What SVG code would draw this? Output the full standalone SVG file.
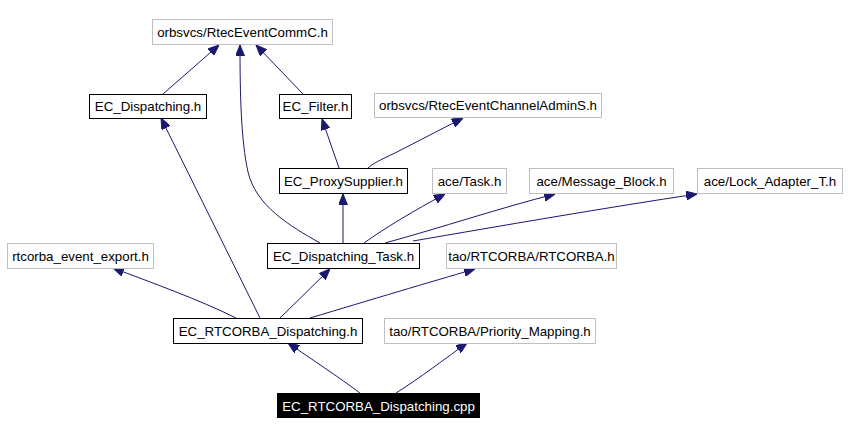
<svg xmlns="http://www.w3.org/2000/svg" width="848" height="435" viewBox="0 0 848 435">
<style>
.n rect{fill:#fff;stroke:#000;stroke-width:1}
.x rect{fill:#fff;stroke:#bfbfbf;stroke-width:1}
.c rect{fill:#000;stroke:#000}
text{font-family:"Liberation Sans",Arial,sans-serif;font-size:13.3px;text-anchor:middle;fill:#000}
.c text{fill:#fff}
.e path{fill:none;stroke:#191970;stroke-width:1;marker-end:url(#a)}
</style>
<defs>
<marker id="a" markerUnits="userSpaceOnUse" markerWidth="11" markerHeight="9" refX="11" refY="4.5" orient="auto" viewBox="0 0 11 9">
<path d="M0,0 L11,4.5 L0,9 z" fill="#191970" stroke="#191970"/>
</marker>
</defs>
<rect width="848" height="435" fill="#fff"/>
<g class="e" id="edges">
<path d="M163,94 L219,45"/>
<path d="M303,94 L256,45"/>
<path d="M320,243 C290,226 256,206 248,172 C241,140 240,95 240,45"/>
<path d="M368,168 C372,164 380,160 395,153 L463,118"/>
<path d="M339,168 L322,119"/>
<path d="M343,243 L343,194"/>
<path d="M364,243 C385,228 415,210 445,194"/>
<path d="M385,243 C440,228 500,208 555,194"/>
<path d="M413,241 C500,226 610,207 697,194"/>
<path d="M236,318 C200,300 150,282 113,268"/>
<path d="M260,318 L161,118"/>
<path d="M280,318 L330,269"/>
<path d="M310,318 C370,300 430,282 475,269"/>
<path d="M360,393 C340,378 310,358 288,343"/>
<path d="M396,393 C420,378 446,358 467,343"/>
</g>
<g id="n1" class="x"><rect x="152.5" y="19.5" width="180" height="25"/><text x="242.5" y="37">orbsvcs/RtecEventCommC.h</text></g>
<g id="n2" class="n"><rect x="89.5" y="94.5" width="117" height="24"/><text x="148" y="111">EC_Dispatching.h</text></g>
<g id="n3" class="n"><rect x="279.5" y="94.5" width="72" height="24"/><text x="315.5" y="111">EC_Filter.h</text></g>
<g id="n4" class="x"><rect x="374.5" y="93.5" width="227" height="24"/><text x="488" y="110">orbsvcs/RtecEventChannelAdminS.h</text></g>
<g id="n5" class="n"><rect x="279.5" y="168.5" width="128" height="25"/><text x="343.5" y="186">EC_ProxySupplier.h</text></g>
<g id="n6" class="x"><rect x="432.5" y="168.5" width="74" height="25"/><text x="469.5" y="186">ace/Task.h</text></g>
<g id="n7" class="x"><rect x="529.5" y="168.5" width="144" height="25"/><text x="601.5" y="186">ace/Message_Block.h</text></g>
<g id="n8" class="x"><rect x="697.5" y="168.5" width="145" height="25"/><text x="770" y="186">ace/Lock_Adapter_T.h</text></g>
<g id="n9" class="x"><rect x="7.5" y="243.5" width="146" height="25"/><text x="80.5" y="261">rtcorba_event_export.h</text></g>
<g id="n10" class="n"><rect x="267.5" y="243.5" width="152" height="25"/><text x="343.5" y="261">EC_Dispatching_Task.h</text></g>
<g id="n11" class="x"><rect x="446.5" y="243.5" width="170" height="25"/><text x="531.5" y="261">tao/RTCORBA/RTCORBA.h</text></g>
<g id="n12" class="n"><rect x="173.5" y="318.5" width="189" height="25"/><text x="268" y="336">EC_RTCORBA_Dispatching.h</text></g>
<g id="n13" class="x"><rect x="384.5" y="318.5" width="211" height="25"/><text x="490" y="336">tao/RTCORBA/Priority_Mapping.h</text></g>
<g id="n14" class="c"><rect x="277.5" y="393.5" width="202" height="24"/><text x="378.5" y="411">EC_RTCORBA_Dispatching.cpp</text></g>
</svg>
